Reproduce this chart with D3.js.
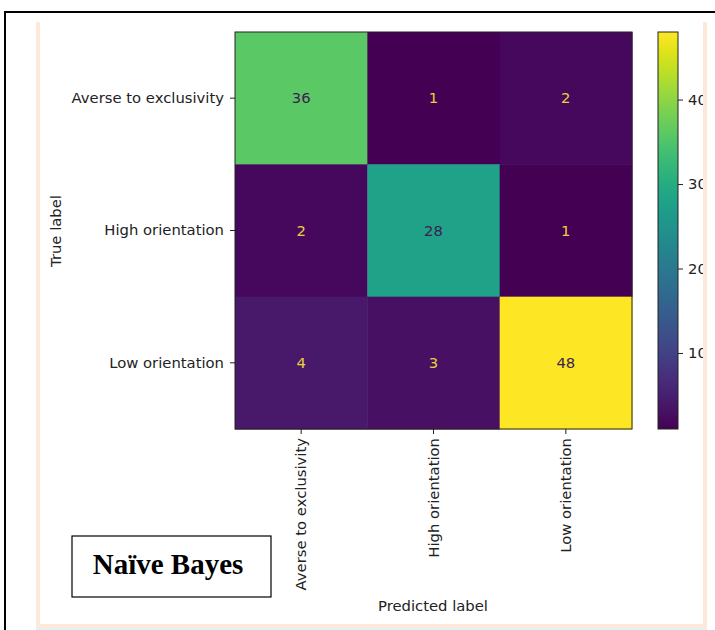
<!DOCTYPE html>
<html><head><meta charset="utf-8">
<script src="https://cdn.jsdelivr.net/npm/d3@7"></script>
<style>body{margin:0;background:#fff}svg{display:block}</style>
</head><body>
<svg id="c" width="715" height="630"></svg>
<script>
const trueLabels = ["Averse to exclusivity", "High orientation", "Low orientation"];
const predLabels = ["Averse to exclusivity", "High orientation", "Low orientation"];
const matrix = [
  [36, 1, 2],
  [2, 28, 1],
  [4, 3, 48]
];
const colorbarTicks = [10, 20, 30, 40];
const title = "Naïve Bayes";

const svg = d3.select("#c");
const FONT = "DejaVu Sans, sans-serif";
const FS = 14.8;

// page frame
svg.append("rect").attr("x", 5).attr("y", 12).attr("width", 760).attr("height", 700)
  .attr("fill", "none").attr("stroke", "#000").attr("stroke-width", 2);

const plot = {x0: 235, x1: 632, y0: 32, y1: 429};
const x = d3.scaleBand().domain(d3.range(3)).range([plot.x0, plot.x1]);
const y = d3.scaleBand().domain(d3.range(3)).range([plot.y0, plot.y1]);
const flat = matrix.flat();
const vmin = d3.min(flat), vmax = d3.max(flat);
const color = d3.scaleSequential(d3.interpolateViridis).domain([vmin, vmax]);

const cells = [];
matrix.forEach((row, i) => row.forEach((v, j) => cells.push({i, j, v})));

svg.append("g").selectAll("rect").data(cells).join("rect")
  .attr("x", d => x(d.j)).attr("y", d => y(d.i))
  .attr("width", x.bandwidth() + 0.5).attr("height", y.bandwidth() + 0.5)
  .attr("fill", d => color(d.v));

const mid = (vmin + vmax) / 2;
svg.append("g").selectAll("text").data(cells).join("text")
  .attr("x", d => x(d.j) + x.bandwidth() / 2)
  .attr("y", d => y(d.i) + y.bandwidth() / 2)
  .attr("dy", "0.36em").attr("text-anchor", "middle")
  .attr("font-family", FONT).attr("font-size", FS)
  .attr("fill", d => d.v < mid ? "#e8d23a" : "#3b1e52")
  .text(d => d.v);

svg.append("rect").attr("x", plot.x0).attr("y", plot.y0)
  .attr("width", plot.x1 - plot.x0).attr("height", plot.y1 - plot.y0)
  .attr("fill", "none").attr("stroke", "#222").attr("stroke-width", 1);

// Y axis
const yAxis = svg.append("g").attr("transform", `translate(${plot.x0},0)`)
  .call(d3.axisLeft(y).tickSize(5).tickPadding(6).tickFormat(i => trueLabels[i]));
yAxis.select(".domain").remove();
yAxis.selectAll("text").attr("font-family", FONT).attr("font-size", FS).attr("fill", "#222");
yAxis.selectAll("line").attr("stroke", "#222");

// X axis
const xAxis = svg.append("g").attr("transform", `translate(0,${plot.y1})`)
  .call(d3.axisBottom(x).tickSize(5).tickFormat(i => predLabels[i]));
xAxis.select(".domain").remove();
xAxis.selectAll("line").attr("stroke", "#222");
xAxis.selectAll("text").attr("font-family", FONT).attr("font-size", FS).attr("fill", "#222")
  .attr("transform", "rotate(-90)").attr("text-anchor", "end")
  .attr("x", -9).attr("y", 0).attr("dy", "0.36em");

svg.append("text").attr("transform", `translate(61,231) rotate(-90)`)
  .attr("text-anchor", "middle").attr("font-family", FONT).attr("font-size", FS).attr("fill", "#222")
  .text("True label");
svg.append("text").attr("x", 433).attr("y", 611)
  .attr("text-anchor", "middle").attr("font-family", FONT).attr("font-size", FS).attr("fill", "#222")
  .text("Predicted label");

// colorbar
const cb = {x: 658, w: 20};
const cy = d3.scaleLinear().domain([vmin, vmax]).range([plot.y1, plot.y0]);
const defs = svg.append("defs");
const grad = defs.append("linearGradient").attr("id", "vg").attr("x1", 0).attr("y1", 1).attr("x2", 0).attr("y2", 0);
d3.range(0, 1.0001, 0.05).forEach(t => grad.append("stop").attr("offset", t).attr("stop-color", d3.interpolateViridis(t)));
svg.append("rect").attr("x", cb.x).attr("y", plot.y0).attr("width", cb.w).attr("height", plot.y1 - plot.y0)
  .attr("fill", "url(#vg)").attr("stroke", "#222").attr("stroke-width", 1);
const cAxis = svg.append("g").attr("transform", `translate(${cb.x + cb.w},0)`)
  .call(d3.axisRight(cy).tickValues(colorbarTicks).tickSize(5).tickPadding(5));
cAxis.select(".domain").remove();
cAxis.selectAll("text").attr("font-family", FONT).attr("font-size", FS).attr("fill", "#222");
cAxis.selectAll("line").attr("stroke", "#222");

// cropping mask on right edge + page decorations
svg.append("rect").attr("x", 703).attr("y", 13).attr("width", 20).attr("height", 620).attr("fill", "#fff");
svg.append("rect").attr("x", 36).attr("y", 22).attr("width", 4).attr("height", 606).attr("fill", "#fde8da");
svg.append("rect").attr("x", 703).attr("y", 22).attr("width", 4).attr("height", 606).attr("fill", "#fde8da");
svg.append("rect").attr("x", 36).attr("y", 624).attr("width", 671).attr("height", 4).attr("fill", "#fde8da");
svg.append("rect").attr("x", 36).attr("y", 628).attr("width", 671).attr("height", 2).attr("fill", "#e2f1f8");

// title box
svg.append("rect").attr("x", 72).attr("y", 536).attr("width", 199).attr("height", 61)
  .attr("fill", "#fff").attr("stroke", "#000").attr("stroke-width", 1.2);
svg.append("text").attr("x", 168).attr("y", 574).attr("text-anchor", "middle")
  .attr("font-family", "Liberation Serif, Times New Roman, serif").attr("font-weight", "bold")
  .attr("font-size", 29).attr("fill", "#000").text(title);
</script>
</body></html>
